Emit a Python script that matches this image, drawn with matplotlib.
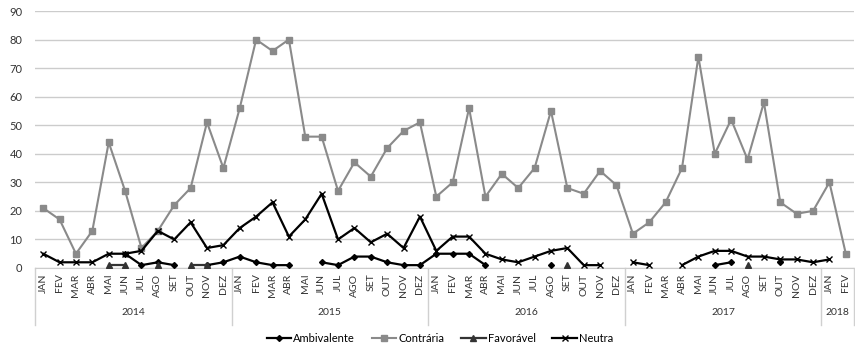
import numpy as np
import matplotlib
matplotlib.use("Agg")
import matplotlib.pyplot as plt
import matplotlib.transforms as mtransforms

plt.rcParams["font.family"] = ["Lato", "DejaVu Sans"]

nan = np.nan
months = ["JAN", "FEV", "MAR", "ABR", "MAI", "JUN", "JUL", "AGO", "SET", "OUT", "NOV", "DEZ"]
month_labels = months * 4 + ["JAN", "FEV"]
years = ["2014", "2015", "2016", "2017", "2018"]
year_lengths = [12, 12, 12, 12, 2]

ambivalente = [nan, nan, nan, nan, nan, 5, 1, 2, 1, nan, 1, 2,
               4, 2, 1, 1, nan, 2, 1, 4, 4, 2, 1, 1,
               5, 5, 5, 1, nan, nan, nan, 1, nan, nan, nan, nan,
               nan, nan, nan, nan, nan, 1, 2, nan, nan, 2, nan, nan,
               nan, nan]
contraria = [21, 17, 5, 13, 44, 27, 7, 13, 22, 28, 51, 35,
             56, 80, 76, 80, 46, 46, 27, 37, 32, 42, 48, 51,
             25, 30, 56, 25, 33, 28, 35, 55, 28, 26, 34, 29,
             12, 16, 23, 35, 74, 40, 52, 38, 58, 23, 19, 20,
             30, 5]
favoravel = [nan, nan, nan, nan, 1, 1, nan, 1, nan, 1, 1, nan,
             nan, nan, nan, nan, nan, nan, nan, nan, nan, nan, nan, nan,
             nan, nan, nan, nan, nan, nan, nan, nan, 1, nan, nan, nan,
             nan, nan, nan, nan, nan, nan, nan, 1, nan, nan, nan, nan,
             nan, nan]
neutra = [5, 2, 2, 2, 5, 5, 6, 13, 10, 16, 7, 8,
          14, 18, 23, 11, 17, 26, 10, 14, 9, 12, 7, 18,
          6, 11, 11, 5, 3, 2, 4, 6, 7, 1, 1, nan,
          2, 1, nan, 1, 4, 6, 6, 4, 4, 3, 3, 2,
          3, nan]

W, H = 855, 349
fig = plt.figure(figsize=(W / 100, H / 100), dpi=100)
ax = fig.add_axes([35 / W, (H - 268) / H, (854 - 35) / W, (268 - 11) / H])

x = np.arange(len(month_labels))
gray = "#8a8a8a"
ax.plot(x, contraria, color=gray, lw=1.5, marker="s", ms=4.5, mfc=gray, mec=gray, label="Contrária", zorder=3)
ax.plot(x, neutra, color="black", lw=1.6, marker="x", ms=4.5, mew=1.0, label="Neutra", zorder=4)
ax.plot(x, ambivalente, color="black", lw=1.6, marker="D", ms=3, label="Ambivalente", zorder=5)
ax.plot(x, favoravel, color="#333333", lw=1.6, marker="^", ms=4, label="Favorável", zorder=5)

ax.set_xlim(-0.5, len(x) - 0.5)
ax.set_ylim(0, 90)
ax.set_yticks(np.arange(0, 91, 10))
ax.yaxis.grid(True, color="#cccccc", lw=1.0)
ax.set_axisbelow(True)
for s in ["top", "right", "left"]:
    ax.spines[s].set_visible(False)
ax.spines["bottom"].set_color("#cccccc")
ax.tick_params(axis="y", length=0, labelsize=8, labelcolor="#333333", pad=9)
ax.set_xticks(x)
ax.set_xticklabels(month_labels, rotation=90, fontsize=7.5, color="#333333")
ax.tick_params(axis="x", length=0, pad=4)

trans = mtransforms.blended_transform_factory(ax.transData, ax.transAxes)
bounds = np.concatenate([[0], np.cumsum(year_lengths)]) - 0.5
for b in bounds:
    ax.plot([b, b], [0, -0.22], transform=trans, color="#d0d0d0", lw=1.0, clip_on=False)
for i, yr in enumerate(years):
    cx = (bounds[i] + bounds[i + 1]) / 2
    ax.text(cx, -0.175, yr, transform=trans, ha="center", va="center", fontsize=7.5, color="#333333")

handles, labels = ax.get_legend_handles_labels()
order = ["Ambivalente", "Contrária", "Favorável", "Neutra"]
hd = dict(zip(labels, handles))
fig.legend([hd[k] for k in order], order, loc="center", bbox_to_anchor=(440 / W, 1 - 338 / H),
           ncol=4, frameon=False, fontsize=8, handlelength=2.2, columnspacing=1.5, handletextpad=0.2)

fig.savefig("out.png", dpi=100, facecolor="white")
